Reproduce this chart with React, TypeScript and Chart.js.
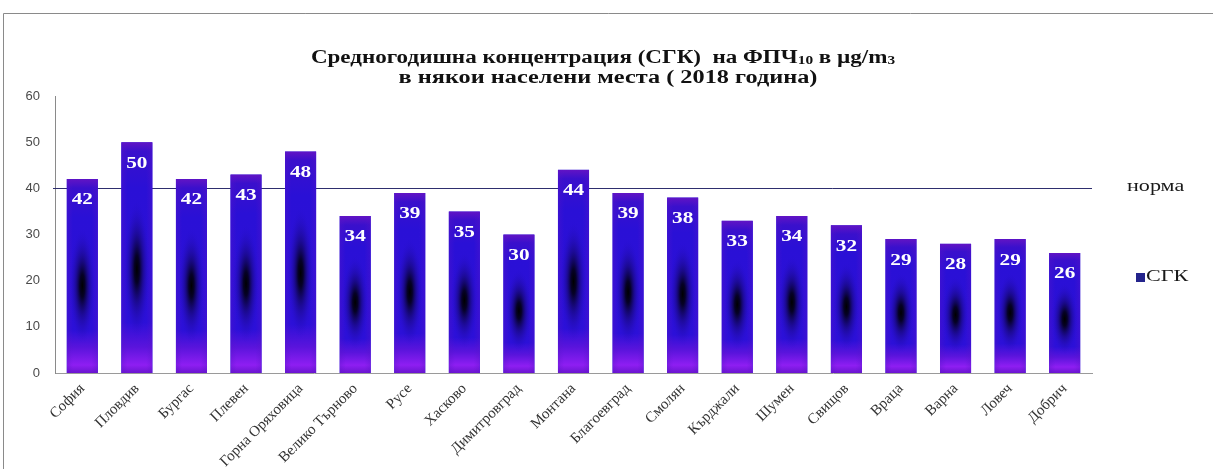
import React, { useEffect, useRef } from "react";
import { Chart, registerables } from "chart.js";

Chart.register(...registerables);

const cities = [
  "София", "Пловдив", "Бургас", "Плевен", "Горна Оряховица", "Велико Търново",
  "Русе", "Хасково", "Димитровград", "Монтана", "Благоевград", "Смолян",
  "Кърджали", "Шумен", "Свищов", "Враца", "Варна", "Ловеч", "Добрич",
];
const sgkValues = [42, 50, 42, 43, 48, 34, 39, 35, 30, 44, 39, 38, 33, 34, 32, 29, 28, 29, 26];
const normValue = 40;
const yMin = 0;
const yMax = 60;
const yStep = 10;
const seriesLabel = "СГК";
const normLabel = "норма";
const titleLine1 = [
  { t: "Средногодишна концентрация (СГК)  на ФПЧ", sub: false },
  { t: "10", sub: true },
  { t: " в µg/m", sub: false },
  { t: "3", sub: true },
];
const titleLine2 = "в някои населени места ( 2018 година)";

const SERIF = '"Liberation Serif", "Times New Roman", serif';
const STRETCH = 1.3;

function drawStretched(ctx: CanvasRenderingContext2D, segs: { t: string; sub: boolean }[], cx: number, y: number, font: string, subFont: string, stretch: number) {
  let total = 0;
  const widths = segs.map((s) => {
    ctx.font = s.sub ? subFont : font;
    const w = ctx.measureText(s.t).width;
    total += w;
    return w;
  });
  ctx.save();
  ctx.translate(cx, y);
  ctx.scale(stretch, 1);
  ctx.textAlign = "left";
  ctx.textBaseline = "alphabetic";
  let x = -total / 2;
  segs.forEach((s, i) => {
    ctx.font = s.sub ? subFont : font;
    ctx.fillText(s.t, x, s.sub ? 1 : 0);
    x += widths[i];
  });
  ctx.restore();
}

const customPlugin = {
  id: "customDraw",
  beforeDraw(chart: any) {
    const ctx = chart.ctx as CanvasRenderingContext2D;
    ctx.save();
    ctx.fillStyle = "#ffffff";
    ctx.fillRect(0, 0, chart.width, chart.height);
    ctx.strokeStyle = "#8a8a8a";
    ctx.lineWidth = 1;
    ctx.beginPath();
    ctx.moveTo(3.5, chart.height);
    ctx.lineTo(3.5, 13.5);
    ctx.lineTo(chart.width, 13.5);
    ctx.stroke();
    ctx.restore();
  },
  beforeDatasetsDraw(chart: any) {
    const ctx = chart.ctx as CanvasRenderingContext2D;
    const yScale = chart.scales.y;
    const area = chart.chartArea;
    const y = Math.round(yScale.getPixelForValue(normValue)) + 0.5;
    ctx.save();
    ctx.strokeStyle = "#2e2e6e";
    ctx.lineWidth = 1;
    ctx.beginPath();
    ctx.moveTo(area.left - 2, y);
    ctx.lineTo(area.right, y);
    ctx.stroke();
    ctx.restore();
  },
  afterDatasetsDraw(chart: any) {
    const ctx = chart.ctx as CanvasRenderingContext2D;
    const meta = chart.getDatasetMeta(0);
    meta.data.forEach((bar: any, i: number) => {
      const { x, y, base, width } = bar.getProps(["x", "y", "base", "width"], true);
      const left = x - width / 2;
      const top = y;
      const h = base - y;
      ctx.save();
      ctx.beginPath();
      ctx.rect(left, top, width, h);
      ctx.clip();
      const g = ctx.createLinearGradient(0, top, 0, base);
      g.addColorStop(0, "#6214c4");
      g.addColorStop(Math.min(0.06, 9 / h), "#3a10cc");
      g.addColorStop(0.2, "#2a10d6");
      g.addColorStop(0.78, "#2c10d8");
      g.addColorStop(1 - Math.min(0.13, 26 / h), "#5a14dc");
      g.addColorStop(1 - Math.min(0.05, 8 / h), "#8e1ef2");
      g.addColorStop(1, "#6a16d0");
      ctx.fillStyle = g;
      ctx.fillRect(left, top, width, h);
      const gh = ctx.createLinearGradient(left, 0, left + width, 0);
      gh.addColorStop(0, "rgba(90,20,200,0.35)");
      gh.addColorStop(0.2, "rgba(90,20,200,0)");
      gh.addColorStop(0.8, "rgba(90,20,200,0)");
      gh.addColorStop(1, "rgba(90,20,200,0.35)");
      ctx.fillStyle = gh;
      ctx.fillRect(left, top, width, h);
      const cy = top + h * 0.55;
      const rx = width * 0.42;
      const ry = h * 0.3;
      ctx.translate(x, cy);
      ctx.scale(1, ry / rx);
      const rg = ctx.createRadialGradient(0, 0, 0, 0, 0, rx);
      rg.addColorStop(0, "rgba(0,0,0,1)");
      rg.addColorStop(0.2, "rgba(2,0,20,0.9)");
      rg.addColorStop(0.5, "rgba(15,5,90,0.5)");
      rg.addColorStop(1, "rgba(40,16,214,0)");
      ctx.fillStyle = rg;
      ctx.fillRect(-rx, -rx, rx * 2, rx * 2);
      ctx.restore();
      ctx.save();
      ctx.fillStyle = "#ffffff";
      ctx.textAlign = "center";
      ctx.textBaseline = "middle";
      ctx.translate(x, top + 21);
      ctx.scale(1.25, 1);
      ctx.font = `bold 17px ${SERIF}`;
      ctx.fillText(String(sgkValues[i]), 0, 0);
      ctx.restore();
    });
  },
  afterDraw(chart: any) {
    const ctx = chart.ctx as CanvasRenderingContext2D;
    const area = chart.chartArea;
    ctx.save();
    ctx.fillStyle = "#111111";
    drawStretched(ctx, titleLine1, 603, 63, `bold 18px ${SERIF}`, `bold 12px ${SERIF}`, 1.28);
    drawStretched(ctx, [{ t: titleLine2, sub: false }], 608, 83, `bold 18px ${SERIF}`, `bold 12px ${SERIF}`, 1.35);
    const ny = chart.scales.y.getPixelForValue(normValue);
    ctx.fillStyle = "#1a1a1a";
    ctx.textBaseline = "middle";
    ctx.save();
    ctx.translate(area.right + 35, ny - 2);
    ctx.scale(STRETCH, 1);
    ctx.font = `17px ${SERIF}`;
    ctx.textAlign = "left";
    ctx.fillText(normLabel, 0, 0);
    ctx.restore();
    const ly = 277;
    ctx.fillStyle = "#24248c";
    ctx.fillRect(area.right + 44, ly - 4, 9, 9);
    ctx.fillStyle = "#1a1a1a";
    ctx.save();
    ctx.translate(area.right + 54, ly);
    ctx.scale(STRETCH, 1);
    ctx.font = `17px ${SERIF}`;
    ctx.textAlign = "left";
    ctx.fillText(seriesLabel, 0, 0);
    ctx.restore();
    ctx.restore();
  },
};

export default function App() {
  const canvasRef = useRef<HTMLCanvasElement | null>(null);

  useEffect(() => {
    if (!canvasRef.current) return;
    const chart = new Chart(canvasRef.current, {
      type: "bar",
      data: {
        labels: cities,
        datasets: [
          {
            label: seriesLabel,
            data: sgkValues,
            backgroundColor: "#2c10d6",
            borderWidth: 0,
            barPercentage: 0.57,
            categoryPercentage: 1,
          },
        ],
      },
      options: {
        responsive: true,
        maintainAspectRatio: false,
        animation: false,
        layout: { padding: { top: 96, right: 121, left: 0, bottom: 0 } },
        plugins: {
          legend: { display: false },
          title: { display: false },
          tooltip: { enabled: false },
        },
        scales: {
          x: {
            grid: { display: false, drawTicks: false },
            border: { display: true, color: "#9a9a9a" },
            ticks: {
              autoSkip: false,
              maxRotation: 45,
              minRotation: 45,
              padding: 7,
              color: "#333333",
              font: { family: SERIF, size: 15 },
            },
            afterFit: (s: any) => {
              s.height = 96;
            },
          },
          y: {
            min: yMin,
            max: yMax,
            grid: { display: false, drawTicks: false },
            border: { display: true, color: "#8a8a8a" },
            ticks: {
              stepSize: yStep,
              padding: 15,
              color: "#4a4a4a",
              font: { family: '"Liberation Sans", Arial, sans-serif', size: 13 },
            },
            afterFit: (s: any) => {
              s.width = 55;
            },
          },
        },
      },
      plugins: [customPlugin],
    });
    return () => chart.destroy();
  }, []);

  return (
    <div style={{ position: "absolute", left: 0, top: 0, width: 1213, height: 469 }}>
      <canvas ref={canvasRef} />
    </div>
  );
}
